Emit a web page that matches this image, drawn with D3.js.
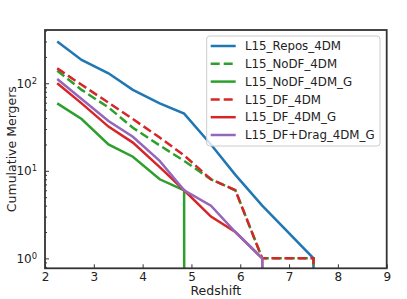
<!DOCTYPE html>
<html>
<head>
<meta charset="utf-8">
<script src="https://cdn.jsdelivr.net/npm/d3@7"></script>
<style>
    body { margin: 0; background: #fff; }
    svg { font-family: "DejaVu Sans", sans-serif; }
</style>
</head>
<body>
<div id="chart"></div>
<script>
// redshift snapshots and cumulative merger counts per run
const redshift = [2.25, 2.75, 3.3, 3.8, 4.35, 4.85, 5.4, 5.9, 6.45, 7.5, 8.5];
const reposDM = [300, 185, 130, 84, 59, 45, 20, 9, 4, 1, 0];
const noDF4DM = [139, 84, 53, 31, 19.5, 13, 8, 6, 1, 1, 0];
const noDF4DMG = [59, 39, 20, 14.5, 8, 6, 0, 0, 0, 0, 0];
const DF4DM = [148, 96, 60, 39, 24, 15, 8, 6, 1, 1, 0];
const DF4DMG = [100, 59, 32, 21, 11, 6, 3, 2, 1, 0, 0];
const DFDrag4DMG = [112, 66, 37, 24.5, 13, 6, 4, 2, 1, 0, 0];

const seriesNames = ["L15_Repos_4DM", "L15_NoDF_4DM", "L15_NoDF_4DM_G", "L15_DF_4DM", "L15_DF_4DM_G", "L15_DF+Drag_4DM_G"];
const seriesColors = ["#1f77b4", "#2ca02c", "#2ca02c", "#d62728", "#d62728", "#9467bd"];
const seriesDashed = [false, true, false, true, false, false];
const seriesValues = [reposDM, noDF4DM, noDF4DMG, DF4DM, DF4DMG, DFDrag4DMG];

const xTicks = [2, 3, 4, 5, 6, 7, 8, 9];
const yMajorTicks = [1, 10, 100];

const width = 407;
const height = 299;
const plotLeft = 45, plotRight = 386.7, plotTop = 30, plotBottom = 268.3;

const svg = d3.select("#chart")
    .append("svg")
    .attr("width", width)
    .attr("height", height);

const x = d3.scaleLinear().domain([2, 9]).range([plotLeft, plotRight]);
const y = d3.scaleLog().domain([0.77, 406]).range([plotBottom, plotTop]);

// zero counts are clipped like matplotlib does on a log axis
const yVal = v => y(v > 0 ? v : 1e-300);

svg.append("clipPath")
    .attr("id", "plot-clip")
    .append("rect")
    .attr("x", plotLeft)
    .attr("y", plotTop)
    .attr("width", plotRight - plotLeft)
    .attr("height", plotBottom - plotTop);

const series = seriesNames.map((name, i) => ({
    name: name,
    color: seriesColors[i],
    dashed: seriesDashed[i],
    values: seriesValues[i].map((v, j) => [redshift[j], v])
}));

const line = d3.line()
    .x(d => x(d[0]))
    .y(d => yVal(d[1]));

svg.append("g")
    .attr("clip-path", "url(#plot-clip)")
    .selectAll("path")
    .data(series)
    .join("path")
    .attr("fill", "none")
    .attr("stroke", d => d.color)
    .attr("stroke-width", 2.5)
    .attr("stroke-dasharray", d => d.dashed ? "9,4" : null)
    .attr("d", d => line(d.values));

// x axis
const xAxis = svg.append("g")
    .attr("transform", `translate(0,${plotBottom})`)
    .call(d3.axisBottom(x)
        .tickValues(xTicks)
        .tickFormat(d3.format("d"))
        .tickSizeInner(-4)
        .tickSizeOuter(0)
        .tickPadding(4.5));

// y axis, major ticks with 10^n labels
const yAxis = svg.append("g")
    .attr("transform", `translate(${plotLeft},0)`)
    .call(d3.axisLeft(y)
        .tickValues(yMajorTicks)
        .tickFormat("")
        .tickSizeInner(-4)
        .tickSizeOuter(0)
        .tickPadding(8));

yAxis.selectAll(".tick text")
    .each(function(d) {
        const t = d3.select(this);
        t.append("tspan").text("10");
        t.append("tspan")
            .attr("dy", "-0.45em")
            .attr("font-size", "0.7em")
            .text(Math.round(Math.log10(d)));
    });

const yMinor = [];
for (let p = -1; p <= 2; p++) {
    for (let m = 2; m <= 9; m++) {
        const v = m * Math.pow(10, p);
        if (v > 0.77 && v < 406) yMinor.push(v);
    }
}

svg.append("g")
    .attr("transform", `translate(${plotLeft},0)`)
    .call(d3.axisLeft(y)
        .tickValues(yMinor)
        .tickFormat("")
        .tickSizeInner(-2)
        .tickSizeOuter(0));

svg.selectAll(".domain").remove();
svg.selectAll(".tick line").attr("stroke", "#333");
svg.selectAll(".tick text")
    .attr("font-size", 12)
    .attr("fill", "#222")
    .attr("font-family", "DejaVu Sans");

// frame
svg.append("rect")
    .attr("x", plotLeft)
    .attr("y", plotTop)
    .attr("width", plotRight - plotLeft)
    .attr("height", plotBottom - plotTop)
    .attr("fill", "none")
    .attr("stroke", "#333")
    .attr("stroke-width", 1.8);

// axis labels
svg.append("text")
    .attr("x", (plotLeft + plotRight) / 2)
    .attr("y", 295)
    .attr("text-anchor", "middle")
    .attr("font-size", 12.5)
    .attr("fill", "#222")
    .text("Redshift");

svg.append("text")
    .attr("transform", `translate(16,${(plotTop + plotBottom) / 2}) rotate(-90)`)
    .attr("text-anchor", "middle")
    .attr("font-size", 12.5)
    .attr("fill", "#222")
    .text("Cumulative Mergers");

// legend
const legend = svg.append("g");

legend.append("rect")
    .attr("x", 206.7)
    .attr("y", 36)
    .attr("width", 173.3)
    .attr("height", 110)
    .attr("rx", 3)
    .attr("fill", "#fff")
    .attr("fill-opacity", 0.8)
    .attr("stroke", "#ccc");

const item = legend.selectAll(".item")
    .data(series)
    .join("g")
    .attr("class", "item")
    .attr("transform", (d, i) => `translate(0,${46 + i * 17.8})`);

item.append("line")
    .attr("x1", 210.7)
    .attr("x2", 235.7)
    .attr("stroke", d => d.color)
    .attr("stroke-width", 2.5)
    .attr("stroke-dasharray", d => d.dashed ? "9,4" : null);

item.append("text")
    .attr("x", 245)
    .attr("dy", "0.36em")
    .attr("font-size", 11.8)
    .attr("fill", "#222")
    .text(d => d.name);
</script>
</body>
</html>
